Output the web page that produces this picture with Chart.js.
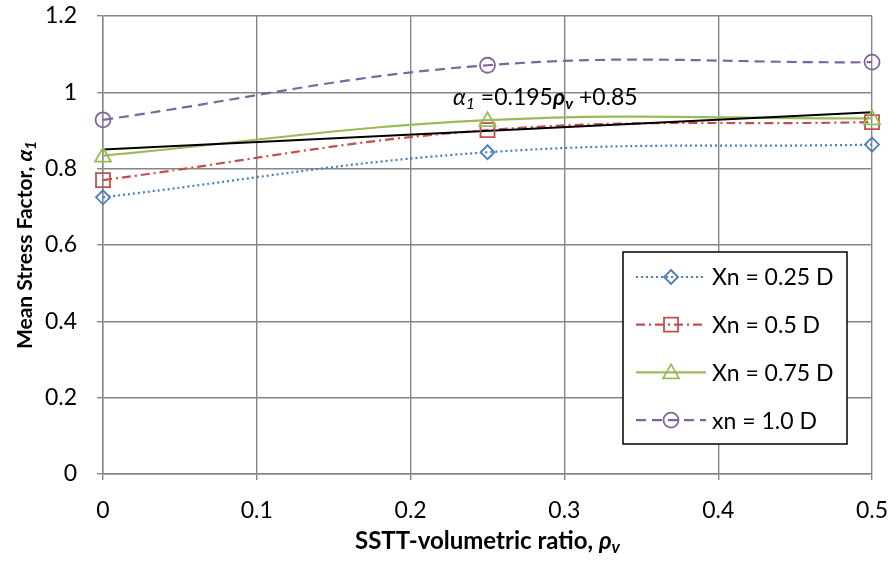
<!DOCTYPE html>
<html>
<head>
<meta charset="utf-8">
<script src="https://cdn.jsdelivr.net/npm/chart.js@4.4.1/dist/chart.umd.min.js"></script>
<style>
  body { margin: 0; background: #fff; }
  #wrap { width: 893px; height: 562px; }
</style>
</head>
<body>
<div id="wrap"><canvas id="chart" width="893" height="562"></canvas></div>
<script>
// données
const xValues = [0, 0.25, 0.5]
const xn025 = [0.725, 0.843, 0.863]
const xn050 = [0.770, 0.901, 0.922]
const xn075 = [0.834, 0.927, 0.932]
const xn100 = [0.928, 1.071, 1.079]
const trendX = [0, 0.5]
const trendY = [0.85, 0.9475]
const seriesLabels = ['Xn = 0.25 D', 'Xn = 0.5 D', 'Xn = 0.75 D', 'xn = 1.0 D']
const xTickLabels = ['0', '0.1', '0.2', '0.3', '0.4', '0.5']
const yTickLabels = ['0', '0.2', '0.4', '0.6', '0.8', '1', '1.2']

const FONT = 'Lato, "Open Sans", sans-serif'
const GRID = 'rgb(134, 134, 134)'

const styles = [
  { color: '#4A7EBB', dash: [2, 3], point: 'diamond', radius: 7 },
  { color: '#C0504D', dash: [9, 4, 2, 4], point: 'square', radius: 7 },
  { color: '#9BBB59', dash: [], point: 'triangle', radius: 8 },
  { color: '#8064A2', dash: [10, 6], point: 'circle', radius: 7.5 }
]
const seriesData = [xn025, xn050, xn075, xn100]

function toPoints(xs, ys) {
  return xs.map((x, i) => ({ x: x, y: ys[i] }))
}

// marqueurs creux façon Excel
function drawMarker(ctx, type, x, y, r, color) {
  ctx.save()
  ctx.setLineDash([])
  ctx.strokeStyle = color
  ctx.lineWidth = 1.8
  ctx.beginPath()
  if (type == 'diamond') {
    ctx.moveTo(x, y - r); ctx.lineTo(x + r, y); ctx.lineTo(x, y + r); ctx.lineTo(x - r, y); ctx.closePath()
  } else if (type == 'square') {
    ctx.rect(x - r, y - r, 2 * r, 2 * r)
  } else if (type == 'triangle') {
    ctx.moveTo(x, y - r); ctx.lineTo(x + r, y + r * 0.75); ctx.lineTo(x - r, y + r * 0.75); ctx.closePath()
  } else {
    ctx.arc(x, y, r, 0, Math.PI * 2)
  }
  ctx.stroke()
  ctx.restore()
}

function drawRuns(ctx, runs, x, y, align) {
  let total = 0
  runs.forEach(r => { ctx.font = r.font; r.w = ctx.measureText(r.text).width; total += r.w })
  let cx = align == 'center' ? x - total / 2 : x
  runs.forEach(r => {
    ctx.font = r.font
    ctx.fillText(r.text, cx, y + (r.dy || 0))
    cx += r.w
  })
}

const datasets = seriesData.map((vals, i) => ({
  label: seriesLabels[i],
  data: toPoints(xValues, vals),
  borderColor: styles[i].color,
  borderDash: styles[i].dash,
  borderWidth: 2.2,
  tension: 0.4,
  pointRadius: 0,
  order: 2
}))
datasets.push({
  label: 'trend',
  data: toPoints(trendX, trendY),
  borderColor: '#000',
  borderWidth: 2,
  tension: 0,
  pointRadius: 0,
  order: 1
})

const extras = {
  id: 'extras',
  afterDatasetsDraw(chart) {
    const ctx = chart.ctx
    const xs = chart.scales.x, ys = chart.scales.y
    // marqueurs
    seriesData.forEach((vals, i) => {
      vals.forEach((v, j) => {
        drawMarker(ctx, styles[i].point, xs.getPixelForValue(xValues[j]), ys.getPixelForValue(v), styles[i].radius, styles[i].color)
      })
    })
  },
  afterDraw(chart) {
    const ctx = chart.ctx
    const area = chart.chartArea
    const xs = chart.scales.x, ys = chart.scales.y
    ctx.save()
    ctx.fillStyle = '#000'
    ctx.textBaseline = 'alphabetic'

    // équation de la tendance
    drawRuns(ctx, [
      { text: 'α', font: 'italic 23px ' + FONT },
      { text: '1', font: 'italic 16px ' + FONT, dy: 4 },
      { text: ' =0.195', font: '23px ' + FONT },
      { text: 'ρ', font: 'bold italic 23px ' + FONT },
      { text: 'v', font: 'bold italic 16px ' + FONT, dy: 4 },
      { text: ' +0.85', font: '23px ' + FONT }
    ], xs.getPixelForValue(0.2275), ys.getPixelForValue(0.967), 'left')

    // titre axe x
    drawRuns(ctx, [
      { text: 'SSTT-volumetric ratio, ', font: 'bold 24px ' + FONT },
      { text: 'ρ', font: 'bold italic 24px ' + FONT },
      { text: 'v', font: 'bold italic 17px ' + FONT, dy: 4 }
    ], (area.left + area.right) / 2, 549, 'center')

    // titre axe y
    ctx.save()
    ctx.translate(32, (area.top + area.bottom) / 2)
    ctx.rotate(-Math.PI / 2)
    drawRuns(ctx, [
      { text: 'Mean Stress Factor, ', font: 'bold 21px ' + FONT },
      { text: 'α', font: 'bold italic 21px ' + FONT },
      { text: '1', font: 'bold italic 15px ' + FONT, dy: 4 }
    ], 0, 0, 'center')
    ctx.restore()

    // légende
    const lx = 623, ly = 252, lw = 224, lh = 192
    ctx.fillStyle = '#fff'
    ctx.fillRect(lx, ly, lw, lh)
    ctx.strokeStyle = '#000'
    ctx.lineWidth = 1.5
    ctx.strokeRect(lx, ly, lw, lh)
    seriesLabels.forEach((lab, i) => {
      const y = ly + 25 + i * 47.7
      ctx.save()
      ctx.strokeStyle = styles[i].color
      ctx.lineWidth = 2.2
      ctx.setLineDash(styles[i].dash)
      ctx.beginPath()
      ctx.moveTo(lx + 13, y)
      ctx.lineTo(lx + 83, y)
      ctx.stroke()
      ctx.restore()
      drawMarker(ctx, styles[i].point, lx + 48, y, styles[i].radius, styles[i].color)
      ctx.fillStyle = '#000'
      ctx.font = '23px ' + FONT
      ctx.textBaseline = 'middle'
      ctx.fillText(lab, lx + 89, y + 1)
    })
    ctx.restore()
  }
}

new Chart(document.getElementById('chart'), {
  type: 'line',
  data: { datasets: datasets },
  plugins: [extras],
  options: {
    responsive: false,
    animation: false,
    devicePixelRatio: 1,
    layout: { padding: { left: 0, right: 21, top: 16, bottom: 0 } },
    plugins: {
      legend: { display: false },
      tooltip: { enabled: false }
    },
    scales: {
      x: {
        type: 'linear',
        min: 0,
        max: 0.5,
        afterFit: (s) => { s.height = 88; s.paddingLeft = 0; s.paddingRight = 0 },
        afterBuildTicks: (s) => { s.ticks = xTickLabels.map(t => ({ value: parseFloat(t) })) },
        ticks: {
          color: '#000',
          font: { family: FONT, size: 23 },
          padding: 17,
          maxRotation: 0,
          callback: (v, i) => xTickLabels[i]
        },
        grid: { color: GRID, lineWidth: 1.4, tickLength: 6, tickColor: GRID },
        border: { color: GRID, width: 1.4 }
      },
      y: {
        min: 0,
        max: 1.2,
        afterFit: (s) => { s.width = 103; s.paddingTop = 0; s.paddingBottom = 0 },
        afterBuildTicks: (s) => { s.ticks = yTickLabels.map(t => ({ value: parseFloat(t) })) },
        ticks: {
          color: '#000',
          font: { family: FONT, size: 23 },
          padding: 20,
          callback: (v, i) => yTickLabels[i]
        },
        grid: { color: GRID, lineWidth: 1.4, tickLength: 6, tickColor: GRID },
        border: { color: GRID, width: 1.4 }
      }
    }
  }
})
</script>
</body>
</html>
